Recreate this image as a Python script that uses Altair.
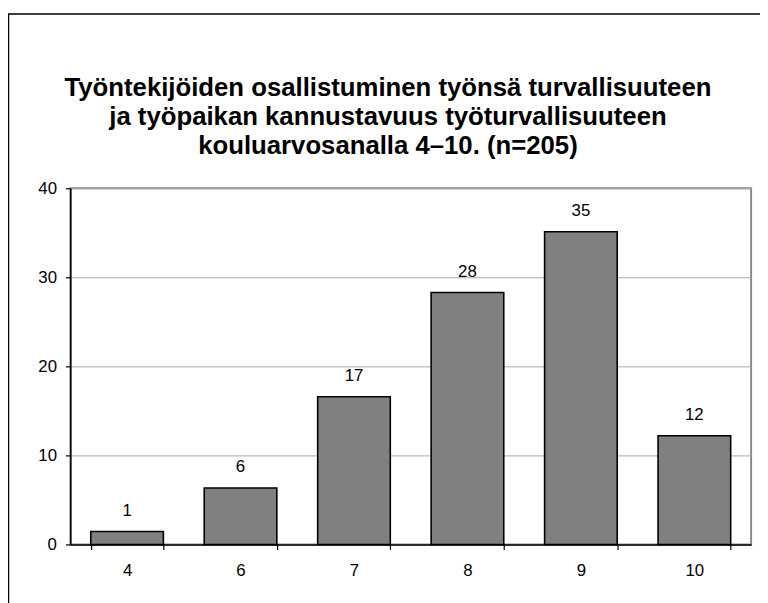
import altair as alt
import pandas as pd

# Data (percent of n=205, labels rounded)
grades = ["4", "6", "7", "8", "9", "10"]
percent = [1.46, 6.34, 16.59, 28.29, 35.12, 12.20]
y_ticks = [0, 10, 20, 30, 40]
title_lines = [
    "Työntekijöiden osallistuminen työnsä turvallisuuteen",
    "ja työpaikan kannustavuus työturvallisuuteen",
    "kouluarvosanalla 4–10. (n=205)",
]

FONT = "Liberation Sans"

df = pd.DataFrame({"grade": grades, "percent": percent})

x_enc = alt.X(
    "grade:N",
    sort=grades,
    title=None,
    scale=alt.Scale(paddingInner=0.36, paddingOuter=0.18),
    axis=alt.Axis(
        labelAngle=0,
        tickBand="extent",
        domainColor="#000000",
        domainWidth=1.5,
        tickColor="#000000",
        tickWidth=1.2,
        tickSize=5,
        labelFontSize=17,
        labelFont=FONT,
        labelColor="#000000",
        labelPadding=13,
        grid=False,
    ),
)
y_enc = alt.Y(
    "percent:Q",
    title=None,
    scale=alt.Scale(domain=[0, 40], nice=False),
    axis=alt.Axis(
        values=y_ticks,
        domainColor="#000000",
        domainWidth=1.5,
        tickColor="#000000",
        tickWidth=1.2,
        tickSize=5,
        labelFontSize=17,
        labelFont=FONT,
        labelColor="#000000",
        labelPadding=9,
        grid=True,
        gridColor="#a8a8a8",
        gridWidth=1,
    ),
)

bars = alt.Chart(df).mark_bar(
    color="#808080", stroke="#000000", strokeWidth=1.6
).encode(x=x_enc, y=y_enc)

labels = alt.Chart(df).mark_text(
    baseline="alphabetic", dy=-16, fontSize=17, font=FONT, color="#000000"
).encode(
    x=alt.X("grade:N", sort=grades),
    y=alt.Y("percent:Q"),
    text=alt.Text("percent:Q", format=".0f"),
)

one = pd.DataFrame({"k": [0]})

frame = alt.Chart(one).mark_rect(
    fillOpacity=0, stroke="#000000", strokeWidth=1.5
).encode(
    x=alt.value(-62.5), x2=alt.value(730), y=alt.value(-176), y2=alt.value(430)
)

title = alt.Chart(one).mark_text(
    font=FONT,
    fontSize=26,
    fontWeight="bold",
    lineHeight=29,
    align="center",
    baseline="middle",
    color="#000000",
).encode(
    x=alt.value(321), y=alt.value(-101), text=alt.value(title_lines)
)

chart = alt.layer(bars, labels, frame, title).properties(
    width=688,
    height=360,
    autosize=alt.AutoSizeParams(type="none"),
    padding={"left": 63, "top": 179, "right": 9, "bottom": 56},
).configure_view(stroke="#8a8a8a", strokeWidth=2)

chart.save("out.html", embed_options={"renderer": "svg", "actions": False})
